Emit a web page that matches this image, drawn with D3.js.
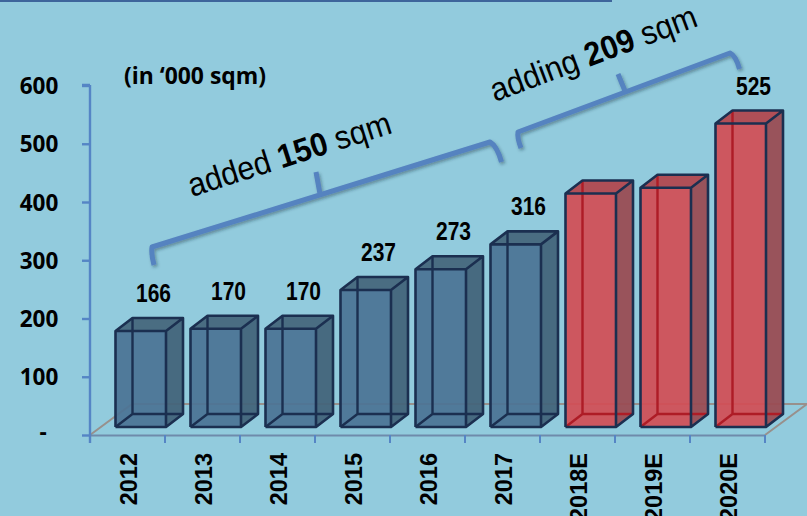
<!DOCTYPE html>
<html>
<head>
<meta charset="utf-8">
<script src="https://cdn.jsdelivr.net/npm/d3@7"></script>
<style>
html,body{margin:0;padding:0;background:#92cbdd;overflow:hidden}
svg{display:block}
</style>
</head>
<body>
<svg id="chart" width="807" height="516"></svg>
<script>
const categories = ["2012","2013","2014","2015","2016","2017","2018E","2019E","2020E"];
const values = [166,170,170,237,273,316,404,414,525];
const labelled = [true,true,true,true,true,true,false,false,true];
const yTicks = [0,100,200,300,400,500,600];

const W = 807, H = 516;
const axisX = 90, axisRight = 765, axisBottom = 435, axisTop = 85.5;
const baseY = 427;              // floor contact of the bar front faces
const depthX = 17, depthY = 13; // oblique offset of each bar
const floorDX = 42, floorDY = 31;
const navy = "#1b2f50";

const svg = d3.select("#chart");
const defs = svg.append("defs");
const shadow = defs.append("filter").attr("id","soft")
  .attr("x","-10%").attr("y","-10%").attr("width","120%").attr("height","130%");
shadow.append("feDropShadow").attr("dx",1.5).attr("dy",2).attr("stdDeviation",1.4)
  .attr("flood-color","#12303f").attr("flood-opacity",0.4);

svg.append("rect").attr("width",W).attr("height",H).attr("fill","#92cbdd");
svg.append("rect").attr("width",612).attr("height",2).attr("fill","#3e659b");

const x = d3.scaleBand().domain(categories).range([axisX,axisRight]);
const y = d3.scaleLinear().domain([0,600]).range([axisBottom,axisTop]);
// Bars stand slightly in front of the axis plane, on a marginally shorter scale.
const barY = d3.scaleLinear().domain([0,600]).range([baseY,baseY-0.578*600]);

// Floor of the 3D plot area
const floor = d3.path();
floor.moveTo(axisX,axisBottom);
floor.lineTo(axisX+floorDX,axisBottom-floorDY);
floor.lineTo(axisRight+floorDX,axisBottom-floorDY);
floor.lineTo(axisRight,axisBottom);
svg.append("path").attr("d",floor.toString()).attr("fill","none")
  .attr("stroke","#98908c").attr("stroke-width",2);
svg.append("line").attr("x1",axisX).attr("x2",axisRight)
  .attr("y1",axisBottom+0.5).attr("y2",axisBottom+0.5)
  .attr("stroke","#6f8bab").attr("stroke-width",2);

// Value axis
const yAxis = svg.append("g").attr("transform",`translate(${axisX},0)`)
  .call(d3.axisLeft(y).tickValues(yTicks).tickSize(8).tickPadding(0)
    .tickFormat(d => d === 0 ? "-" : d));
yAxis.selectAll("path,line").attr("stroke","#5585c5").attr("stroke-width",2.4);
yAxis.select("path").attr("d",`M0,${axisTop-0.5}H-8M0,${axisTop-0.5}V${axisBottom+8}`).attr("fill","none");
yAxis.selectAll("text")
  .attr("x",-51).attr("dy","0.36em").attr("text-anchor","middle")
  .attr("font-family","'Open Sans',sans-serif").attr("font-weight",700)
  .attr("font-size",22.5).attr("fill","#000")
  .filter(d => d === 0).attr("x",-47).attr("dy","0.2em");

// Category axis ticks and rotated labels
const xAxis = svg.append("g").attr("transform",`translate(0,${axisBottom})`);
xAxis.selectAll("line").data(categories).join("line")
  .attr("x1",d => x(d)+x.bandwidth()).attr("x2",d => x(d)+x.bandwidth())
  .attr("y1",0).attr("y2",8)
  .attr("stroke","#5585c5").attr("stroke-width",2);
svg.append("g").selectAll("text").data(categories).join("text")
  .attr("transform",d => `translate(${x(d)+x.bandwidth()/2+9.5},453) rotate(-90)`)
  .attr("text-anchor","end")
  .attr("font-family","'Liberation Sans',Arial,sans-serif").attr("font-weight",700)
  .attr("font-size",23.5).attr("fill","#000")
  .text(d => d);

// Bars
const palette = {
  actual:   {front:"#4b7394", top:"#4a6d82", side:"#43647a", inner:navy},
  forecast: {front:"#d24d55", top:"#b04f57", side:"#9a4c53", inner:"#ae1c26"}
};
const bars = svg.append("g").selectAll("g")
  .data(categories.map((c,i) => ({c, v:values[i], labelled:labelled[i], forecast:c.endsWith("E")})))
  .join("g");

const poly = pts => "M" + pts.map(p => p.join(",")).join("L") + "Z";
bars.each(function(d){
  const g = d3.select(this);
  const p = d.forecast ? palette.forecast : palette.actual;
  const l = x(d.c)+25.5, r = l+50.5, t = barY(d.v), b = baseY;
  // side and top faces
  g.append("path").attr("d",poly([[r,t],[r+depthX,t-depthY],[r+depthX,b-depthY],[r,b]]))
    .attr("fill",p.side).attr("fill-opacity",0.95);
  g.append("path").attr("d",poly([[l,t],[l+depthX,t-depthY],[r+depthX,t-depthY],[r,t]]))
    .attr("fill",p.top);
  g.append("path").attr("d",poly([[l,t],[r,t],[r,b],[l,b]]))
    .attr("fill",p.front).attr("fill-opacity",0.93);
  // hidden edges seen through the translucent box
  const hidden = d3.path();
  hidden.moveTo(l+depthX,t-depthY); hidden.lineTo(l+depthX,b-depthY); hidden.lineTo(r+depthX,b-depthY);
  hidden.moveTo(l+depthX,b-depthY); hidden.lineTo(l,b);
  g.append("path").attr("d",hidden.toString()).attr("fill","none")
    .attr("stroke",p.inner).attr("stroke-width",2.4);
  // visible edges
  const edge = d3.path();
  edge.moveTo(l,b); edge.lineTo(l,t); edge.lineTo(l+depthX,t-depthY);
  edge.lineTo(r+depthX,t-depthY); edge.lineTo(r+depthX,b-depthY); edge.lineTo(r,b); edge.lineTo(l,b);
  edge.moveTo(l,t); edge.lineTo(r,t); edge.lineTo(r,b);
  edge.moveTo(r,t); edge.lineTo(r+depthX,t-depthY);
  g.append("path").attr("d",edge.toString()).attr("fill","none")
    .attr("stroke",navy).attr("stroke-width",2.6).attr("stroke-linejoin","round");
  if (d.labelled) {
    g.append("text")
      .attr("transform",`translate(${l+25+13},${t-depthY-16}) scale(0.84,1)`)
      .attr("text-anchor","middle")
      .attr("font-family","'Liberation Sans',Arial,sans-serif").attr("font-weight",700)
      .attr("font-size",25).attr("fill","#000")
      .text(d.v);
  }
});

// Unit note
svg.append("text").attr("x",124).attr("y",84)
  .attr("font-family","'Open Sans',sans-serif").attr("font-weight",700)
  .attr("font-size",22.9).attr("fill","#000").text("(in ‘000 sqm)");

// Growth brackets
function bracket(d){
  svg.append("path").attr("d",d).attr("fill","none")
    .attr("stroke","#5583c0").attr("stroke-width",5)
    .attr("stroke-linejoin","round").attr("filter","url(#soft)");
}
bracket("M154,265 Q151,254 152,247 L490,142 Q497,146 501.5,162 M320,194 L316,172");
bracket("M521,148 Q517,138 518,132 L730,53 Q736,56 739.5,69 M625,91 L618,74");

// Growth captions
function caption(tx,ty,angle,lead,num){
  const t = svg.append("text")
    .attr("transform",`translate(${tx},${ty}) rotate(${angle}) scale(0.93,1)`)
    .attr("font-family","'Liberation Sans',Arial,sans-serif")
    .attr("font-size",33).attr("fill","#000");
  t.append("tspan").text(lead+" ");
  t.append("tspan").attr("font-weight",700).text(num);
  t.append("tspan").text(" sqm");
}
caption(192,197,-17.7,"added","150");
caption(495,102,-20.5,"adding","209");
</script>
</body>
</html>
